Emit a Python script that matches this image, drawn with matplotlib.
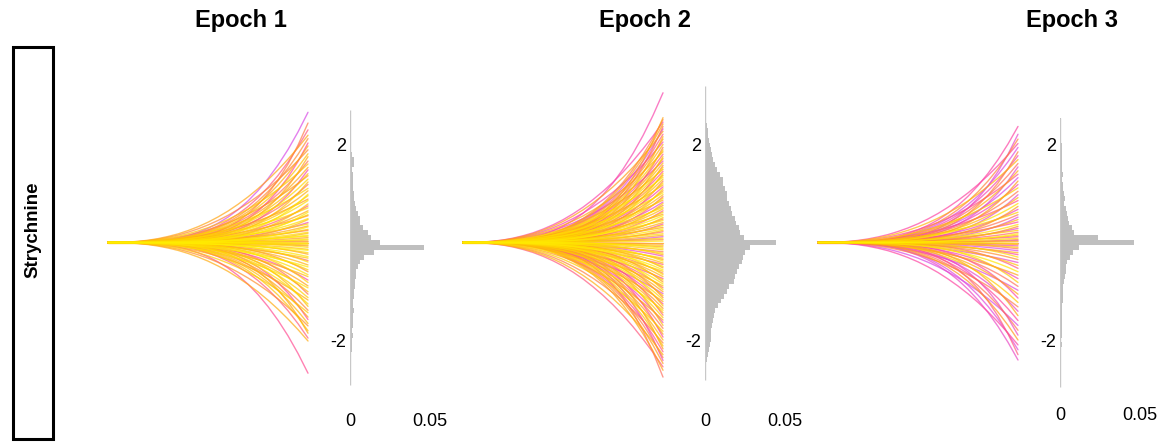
import numpy as np
import matplotlib
matplotlib.use('Agg')
import matplotlib.pyplot as plt
from matplotlib.colors import LinearSegmentedColormap
from matplotlib.patches import Rectangle

plt.rcParams['font.family'] = ['Liberation Sans', 'DejaVu Sans']

# ---- data ----
titles = ['Epoch 1', 'Epoch 2', 'Epoch 3']
row_label = 'Strychnine'

# trajectory shapes (fraction of final value) at t = 0, 0.05, ..., 1
t_grid = [0.0, 0.05, 0.1, 0.15, 0.2, 0.25, 0.3, 0.35, 0.4, 0.45, 0.5,
          0.55, 0.6, 0.65, 0.7, 0.75, 0.8, 0.85, 0.9, 0.95, 1.0]
profile_mid = [0.0, 0.0001, 0.0006, 0.0023, 0.006, 0.012, 0.021, 0.035, 0.053, 0.078, 0.109,
               0.148, 0.195, 0.252, 0.319, 0.398, 0.49, 0.595, 0.714, 0.849, 1.0]
profile_early = [0.0, 0.0008, 0.004, 0.0106, 0.021, 0.036, 0.056, 0.08, 0.111, 0.147, 0.189,
                 0.238, 0.293, 0.356, 0.425, 0.501, 0.585, 0.677, 0.777, 0.884, 1.0]
profile_late = [0.0, 0.0, 0.0001, 0.0005, 0.0016, 0.0039, 0.0081, 0.015, 0.0256, 0.041, 0.0625,
                0.0915, 0.1296, 0.1785, 0.2401, 0.3164, 0.4096, 0.522, 0.656, 0.8145, 1.0]

# final values of the trajectories
ends1 = [2.67, 2.45, 2.31, 2.2, 2.13, 2.04, 1.98, 1.9, 1.82, 1.76, 1.67, 1.61, 1.54, 1.49,
         1.41, 1.37, 1.3, 1.24, 1.19, 1.11, 1.06, 0.99, 0.96, 0.89, 0.86, 0.79, 0.75, 0.71,
         0.65, 0.62, 0.57, 0.55, 0.49, 0.47, 0.41, 0.38, 0.34, 0.32, 0.27, 0.25, 0.21, 0.19,
         0.15, 0.13, 0.1, 0.07, 0.05, 0.02, 0.01, 0.0, -0.02, -0.05, -0.07, -0.1, -0.14,
         -0.16, -0.21, -0.24, -0.29, -0.32, -0.37, -0.4, -0.46, -0.5, -0.56, -0.6, -0.66,
         -0.7, -0.77, -0.82, -0.89, -0.93, -1.01, -1.06, -1.13, -1.18, -1.26, -1.31, -1.39,
         -1.44, -1.53, -1.58, -1.66, -1.71, -1.81, -1.86, -1.96, -2.02, -2.68]
ends2 = [3.07, 2.56, 2.52, 2.47, 2.43, 2.38, 2.33, 2.28, 2.22, 2.17, 2.12, 2.06, 2.01, 1.95,
         1.9, 1.86, 1.81, 1.76, 1.72, 1.67, 1.63, 1.58, 1.54, 1.5, 1.46, 1.42, 1.38, 1.34,
         1.3, 1.26, 1.22, 1.18, 1.14, 1.1, 1.06, 1.02, 0.98, 0.94, 0.91, 0.87, 0.83, 0.8,
         0.76, 0.72, 0.69, 0.65, 0.62, 0.58, 0.55, 0.51, 0.48, 0.45, 0.41, 0.38, 0.35, 0.31,
         0.28, 0.25, 0.22, 0.18, 0.15, 0.12, 0.09, 0.06, 0.03, 0.0, -0.03, -0.06, -0.09,
         -0.12, -0.15, -0.19, -0.22, -0.25, -0.28, -0.32, -0.35, -0.38, -0.42, -0.45, -0.49,
         -0.52, -0.56, -0.59, -0.63, -0.66, -0.7, -0.74, -0.77, -0.81, -0.85, -0.89, -0.93,
         -0.97, -1.01, -1.05, -1.09, -1.13, -1.17, -1.21, -1.26, -1.3, -1.35, -1.39, -1.44,
         -1.49, -1.54, -1.59, -1.64, -1.7, -1.76, -1.82, -1.88, -1.94, -2.0, -2.06, -2.12,
         -2.18, -2.24, -2.3, -2.36, -2.42, -2.48, -2.55, -2.62, -2.76]
ends3 = [2.38, 2.22, 2.12, 2.03, 1.95, 1.86, 1.78, 1.7, 1.62, 1.55, 1.47, 1.4, 1.33, 1.26,
         1.19, 1.12, 1.05, 0.98, 0.92, 0.86, 0.8, 0.74, 0.68, 0.62, 0.57, 0.52, 0.47, 0.42,
         0.37, 0.33, 0.29, 0.25, 0.21, 0.18, 0.15, 0.12, 0.09, 0.06, 0.04, 0.02, 0.0, -0.02,
         -0.04, -0.07, -0.1, -0.13, -0.17, -0.21, -0.25, -0.3, -0.35, -0.41, -0.47, -0.53,
         -0.6, -0.67, -0.74, -0.82, -0.9, -0.98, -1.06, -1.14, -1.23, -1.32, -1.41, -1.5,
         -1.6, -1.7, -1.8, -1.9, -2.0, -2.1, -2.2, -2.3, -2.41]

# histogram (fraction per bin), bin centres +2.9 ... -2.9 in steps of 0.1
hist_centres = [round(2.9 - 0.1 * k, 1) for k in range(59)]
hist1 = [0, 0, 0.0003, 0.0003, 0.0003, 0.0003, 0.0003, 0.0004, 0.0005, 0.0005, 0.0008,
         0.0012, 0.0025, 0.0022, 0.0015, 0.0018, 0.002, 0.0018, 0.002, 0.0022, 0.0025,
         0.003, 0.0035, 0.005, 0.006, 0.0065, 0.008, 0.011, 0.013, 0.019, 0.046, 0.015,
         0.009, 0.006, 0.005, 0.004, 0.0035, 0.003, 0.003, 0.0025, 0.0025, 0.002, 0.002,
         0.0022, 0.0018, 0.002, 0.0018, 0.0015, 0.0018, 0.0015, 0.0012, 0.001, 0.0005,
         0.0004, 0.0003, 0.0003, 0.0002, 0.0002, 0.0001]
hist2 = [0.0002, 0.0003, 0.0004, 0.0005, 0.0008, 0.0012, 0.0016, 0.002, 0.0026, 0.003,
         0.0036, 0.0042, 0.005, 0.0062, 0.0075, 0.0095, 0.011, 0.0115, 0.0125, 0.014,
         0.0135, 0.015, 0.016, 0.017, 0.0185, 0.0195, 0.021, 0.022, 0.0245, 0.0445, 0.028,
         0.025, 0.024, 0.023, 0.021, 0.02, 0.019, 0.018, 0.015, 0.0135, 0.012, 0.01, 0.008,
         0.0065, 0.0055, 0.005, 0.0045, 0.004, 0.0038, 0.0035, 0.003, 0.0025, 0.0018,
         0.0012, 0.0008, 0.0005, 0.0003, 0.0002, 0.0001]
hist3 = [0, 0.0001, 0.0002, 0.0003, 0.0004, 0.0005, 0.0006, 0.0007, 0.0008, 0.001, 0.0012,
         0.0012, 0.0014, 0.0013, 0.0015, 0.0016, 0.0015, 0.0018, 0.002, 0.0025, 0.003,
         0.0028, 0.004, 0.0045, 0.005, 0.0055, 0.0075, 0.009, 0.024, 0.046, 0.012, 0.008,
         0.006, 0.0045, 0.004, 0.0035, 0.003, 0.0025, 0.002, 0.002, 0.0018, 0.0016, 0.0015,
         0.0015, 0.0013, 0.0012, 0.0012, 0.0015, 0.001, 0.0009, 0.0012, 0.0008, 0.0006,
         0.0004, 0.0003, 0.0002, 0.0001, 0.0001, 0]
# extent of the thin baseline drawn at 0 in each histogram
base_span = [(-2.92, 2.72), (-2.82, 3.2), (-2.96, 2.55)]

ends_all = [ends1, ends2, ends3]
hist_all = [hist1, hist2, hist3]

# ---- layout (pixels of a 1167 x 442 canvas) ----
W, H = 1167, 442
fig = plt.figure(figsize=(W / 100, H / 100), dpi=100)
cmap = LinearSegmentedColormap.from_list(
    'traj', ['#d84be6', '#ff45a0', '#ff9a1a', '#ffc800', '#fff000'])
colour_bias = [0.4, 0.55, 1.1]
title_x = [241, 645, 1072]
xlab_pad = [9, 9, 5]
ylim = (-3.23, 3.23)
ax_bottom, ax_height = (H - 400) / H, 315 / H

t = np.array(t_grid)
shapes = [np.array(profile_mid), np.array(profile_early), np.array(profile_mid),
          np.array(profile_late)]

for p in range(3):
    x0 = 100 + 355 * p
    ax = fig.add_axes([x0 / W, ax_bottom, 215 / W, ax_height])
    ends = ends_all[p]
    emax = max(abs(e) for e in ends)
    lines = []
    for i, e in enumerate(ends):
        c = ((i * 0.618034 + 0.3 * p) % 1.0) ** colour_bias[p]
        c *= 1 - 0.6 * (abs(e) / emax) ** 2
        lines.append((c, e, shapes[(i * 3) % 4]))
    # yellow lines end up on top, as in the reference
    for c, e, shp in sorted(lines, key=lambda r: r[0]):
        ax.plot(t, e * shp, color=cmap(c), lw=1.0, alpha=0.7, solid_capstyle='round')
    ax.set_xlim(-0.04, 1.035)
    ax.set_ylim(*ylim)
    ax.axis('off')

    hx = 350 + 355 * p
    hax = fig.add_axes([hx / W, ax_bottom, 88 / W, ax_height])
    hax.barh(hist_centres, hist_all[p], height=0.1, color='#bfbfbf', linewidth=0)
    lo, hi = base_span[p]
    hax.vlines(0, lo, hi, color='#c8c8c8', lw=1)
    hax.set_xlim(0, 0.055)
    hax.set_ylim(*ylim)
    for s in hax.spines.values():
        s.set_visible(False)
    hax.set_yticks([2, -2])
    hax.set_yticklabels(['2', '-2'])
    hax.set_xticks([0, 0.05])
    hax.set_xticklabels(['0', '0.05'])
    hax.tick_params(axis='y', length=0, pad=3, labelsize=13)
    hax.tick_params(axis='x', length=0, pad=xlab_pad[p], labelsize=13)

    fig.text(title_x[p] / W, 1 - 21 / H, titles[p], ha='center', va='center',
             fontsize=17, fontweight='bold')

# row label box
fig.add_artist(Rectangle((13 / W, (H - 439) / H), 40 / W, 392 / H, transform=fig.transFigure,
                         fill=False, edgecolor='black', lw=2.2))
fig.text(33 / W, 1 - 230 / H, row_label, rotation=90, ha='center', va='center',
         fontsize=13.5, fontweight='bold')

fig.savefig('out.png', dpi=100)
